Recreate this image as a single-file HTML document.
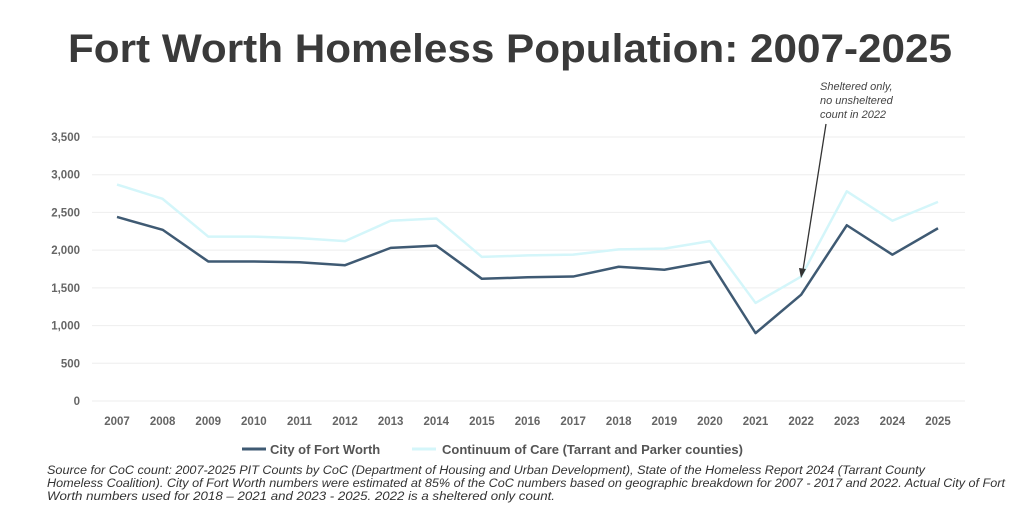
<!DOCTYPE html>
<html><head><meta charset="utf-8"><style>
body{margin:0;background:#fff;width:1024px;height:511px;overflow:hidden;font-family:"Liberation Sans",sans-serif}
</style></head><body>
<svg width="1024" height="511" viewBox="0 0 1024 511">
<text x="68" y="62" textLength="884" lengthAdjust="spacingAndGlyphs" font-size="40" font-weight="bold" fill="#3a3a3a">Fort Worth Homeless Population: 2007-2025</text>
<g id="grid"></g><g id="ylab"></g><g id="xlab"></g><g id="lines"></g>
<g font-size="11" font-style="italic" fill="#444">
<text x="820" y="90">Sheltered only,</text>
<text x="820" y="104">no unsheltered</text>
<text x="820" y="118">count in 2022</text>
<line x1="826" y1="124" x2="803" y2="270" stroke="#333" stroke-width="1.3"/>
<polygon points="801,278 799,268 806,269" fill="#333"/>
</g>
<g font-size="13" font-weight="bold" fill="#555">
<line x1="242" y1="449" x2="266" y2="449" stroke="#3f5a73" stroke-width="3"/>
<text x="270" y="454">City of Fort Worth</text>
<line x1="412" y1="449" x2="436" y2="449" stroke="#d4f6fa" stroke-width="3"/>
<text x="442" y="454">Continuum of Care (Tarrant and Parker counties)</text>
</g>
<g font-size="11.5" font-style="italic" fill="#333" lengthAdjust="spacingAndGlyphs">
<text x="47" y="474" textLength="878" lengthAdjust="spacingAndGlyphs">Source for CoC count: 2007-2025 PIT Counts by CoC (Department of Housing and Urban Development), State of the Homeless Report 2024 (Tarrant County</text>
<text x="47" y="487" textLength="958" lengthAdjust="spacingAndGlyphs">Homeless Coalition). City of Fort Worth numbers were estimated at 85% of the CoC numbers based on geographic breakdown for 2007 - 2017 and 2022. Actual City of Fort</text>
<text x="47" y="500" textLength="508" lengthAdjust="spacingAndGlyphs">Worth numbers used for 2018 – 2021 and 2023 - 2025. 2022 is a sheltered only count.</text>
</g>
</svg>
<script>
const years=[2007,2008,2009,2010,2011,2012,2013,2014,2015,2016,2017,2018,2019,2020,2021,2022,2023,2024,2025];
const cityValues=[2440,2270,1850,1850,1840,1800,2030,2060,1620,1640,1650,1780,1740,1850,900,1410,2330,1940,2290];
const cocValues=[2870,2680,2180,2180,2160,2120,2390,2420,1910,1930,1940,2010,2020,2120,1300,1650,2780,2390,2640];
const yTicks=[0,500,1000,1500,2000,2500,3000,3500];
const NS="http://www.w3.org/2000/svg";
const x0=117,x1=938,yb=401,yt=137,ymax=3500;
const xs=i=>x0+(x1-x0)*i/(years.length-1);
const ys=v=>yb-(yb-yt)*v/ymax;
function mk(t,a,p){const e=document.createElementNS(NS,t);for(const k in a)e.setAttribute(k,a[k]);p.appendChild(e);return e;}
const grid=document.getElementById('grid'),yl=document.getElementById('ylab'),xl=document.getElementById('xlab'),ln=document.getElementById('lines');
yTicks.forEach(v=>{
 const g=mk('line',{x1:92,x2:965,y1:ys(v),y2:ys(v),stroke:'#eeeeee','stroke-width':1},grid);
 
 
 const t=mk('text',{x:80,y:ys(v)+4,'text-anchor':'end','font-size':11.5,'font-weight':'bold',fill:'#666'},yl);
 t.textContent=v.toLocaleString('en-US');
 
 
});
years.forEach((y,i)=>{
 const t=mk('text',{x:xs(i),y:425,'text-anchor':'middle','font-size':11.5,'font-weight':'bold',fill:'#666'},xl);
 t.textContent=y;
 
 
});
function line(vals,color,name){
 const p=mk('polyline',{points:vals.map((v,i)=>xs(i)+','+ys(v)).join(' '),fill:'none',stroke:color,'stroke-width':2.5,'stroke-linejoin':'round'},ln);
 
 
}
line(cocValues,'#d4f6fa','coc-line');
line(cityValues,'#3f5a73','city-line');
</script>
</body></html>
